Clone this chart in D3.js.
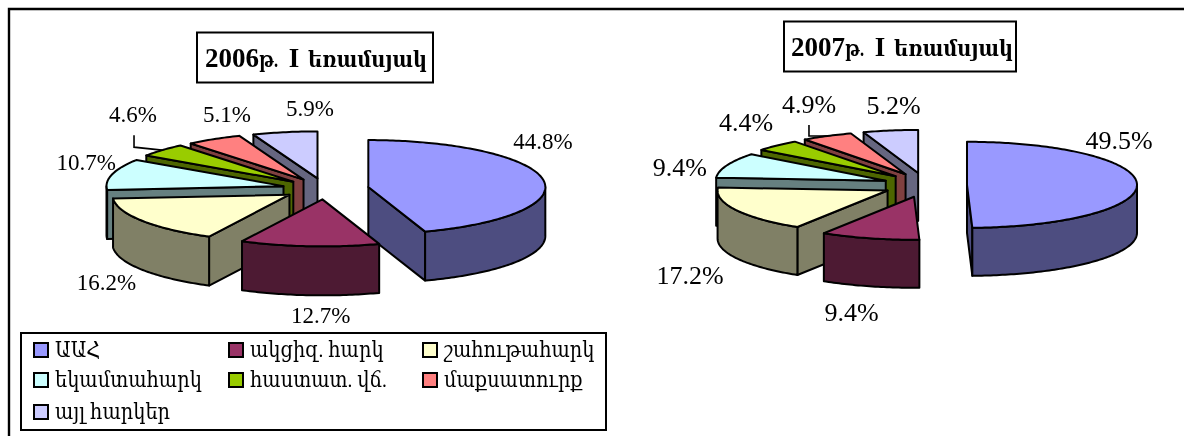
<!DOCTYPE html>
<html>
<head>
<meta charset="utf-8">
<script src="https://cdn.jsdelivr.net/npm/d3@7"></script>
<style>
html,body{margin:0;padding:0;background:#fff;overflow:hidden}
svg{display:block;filter:blur(0.4px)}
text{font-family:"Liberation Serif","DejaVu Serif",serif;fill:#000}
</style>
</head>
<body>
<svg id="c" width="1184" height="436"></svg>
<script>
// data
const categories = ["ԱԱՀ","ակցիզ. հարկ","շահութահարկ","եկամտահարկ","հաստատ. վճ.","մաքսատուրք","այլ հարկեր"];
const values2006 = [44.8,12.7,16.2,10.7,4.6,5.1,5.9];
const values2007 = [49.5,9.4,17.2,9.4,4.4,4.9,5.2];
const title2006 = ["2006","թ.", " I ","եռամսյակ"];
const title2007 = ["2007","թ.", " I ","եռամսյակ"];
const topColors  = ["#9999FF","#993366","#FFFFCC","#CCFFFF","#99CC00","#FF8080","#CCCCFF"];
const sideColors = ["#4D4D80","#4D1A33","#808066","#668080","#4D6600","#804040","#666680"];

// layout
const paintOrder = [6,5,4,3,2,0,1];
const titleSizes = [27,22,27,22];
const titleWidths = [null,19,null,119];
const titleGaps = [0,0,4,2];
const charts = [
  {values:values2006,title:title2006,cx:325.5,cy:188.8,rx:177,ry:47,depth:49,ex:43.4,ey:10.6,font:23,
   box:{x:197,y:32.5,w:236,h:50},titleX:205,titleBase:67,
   labelOffsets:[[0,-30],[11,77],[-36,69],[-26,-4],[-29,-28],[13,-17],[25,-16]],
   leader:{i:4,pts:[[0,0],[-28,-3],[-28,-15]]}},
  {values:values2007,title:title2007,cx:925,cy:185,rx:170,ry:43,depth:48,ex:42,ey:12.2,font:26,
   box:{x:784,y:21.5,w:232,h:50},titleX:791,titleBase:56,
   labelOffsets:[[-18,-35],[-18,83],[-46,74],[-47,11],[-31,-14],[-18,-23],[3,-17]],
   leader:{i:5,pts:[[0,0],[-18,0],[-18,-11]]}}
];
const legendBox={x:21,y:333,w:585,h:97};
const legendCols=[34,229,423], legendRows=[350,380,412];
const legendSquash=0.88;

const svg=d3.select("#c");
svg.append("path").attr("d","M1184,9H9V436").attr("fill","none").attr("stroke","#000").attr("stroke-width",2.4);

const toRad=Math.PI/180;
const line=d3.line();
function drawPie(c){
  const g=svg.append("g");
  const arcs=d3.pie().sort(null).value(d=>d)(c.values);
  const x=d3.scaleLinear().domain([-1,1]).range([-c.rx,c.rx]);
  const y=d3.scaleLinear().domain([-1,1]).range([-c.ry,c.ry]);
  const slices=arcs.map(a=>{
    const mid=(a.startAngle+a.endAngle)/2;
    const ax=c.cx+c.ex*Math.sin(mid), ay=c.cy-c.ey*Math.cos(mid);
    const pt=t=>[ax+x(Math.sin(t)),ay-y(Math.cos(t))];
    return {a,mid,ax,ay,pt};
  });
  const stroke=el=>el.attr("stroke","#000").attr("stroke-width",2).attr("stroke-linejoin","round");
  paintOrder.forEach(i=>{
    const s=slices[i],a=s.a;
    const d=c.depth;
    const down=p=>[p[0],p[1]+d];
    const face=t=>{
      const r=s.pt(t),o=[s.ax,s.ay];
      stroke(g.append("path")).attr("d",line([o,r,down(r),down(o)])+"Z").attr("fill",sideColors[i]);
    };
    if(Math.sin(a.startAngle)<-1e-6) face(a.startAngle);
    if(Math.sin(a.endAngle)>1e-6) face(a.endAngle);
    const lo=Math.max(a.startAngle,Math.PI/2), hi=Math.min(a.endAngle,Math.PI*1.5);
    if(hi>lo){
      const ts=d3.range(lo,hi,toRad).concat([hi]);
      const rim=ts.map(s.pt);
      stroke(g.append("path")).attr("d",line(rim.concat(rim.map(down).reverse()))+"Z").attr("fill",sideColors[i]);
    }
    const ts=d3.range(a.startAngle,a.endAngle,toRad).concat([a.endAngle]);
    stroke(g.append("path")).attr("d",line([[s.ax,s.ay]].concat(ts.map(s.pt)))+"Z").attr("fill",topColors[i]);
  });
  const ls=slices[c.leader.i],lp=ls.pt(ls.mid);
  g.append("path").attr("d",line(c.leader.pts.map(o=>[lp[0]+o[0],lp[1]+o[1]]))).attr("fill","none").attr("stroke","#000").attr("stroke-width",1.6);
  const fmt=d3.format(".1f");
  slices.forEach((s,i)=>{
    const p=s.pt(s.mid),o=c.labelOffsets[i];
    g.append("text").attr("x",p[0]+o[0]).attr("y",p[1]+o[1]).attr("text-anchor","middle")
      .attr("font-size",c.font).text(fmt(c.values[i])+"%");
  });
  g.append("rect").attr("x",c.box.x).attr("y",c.box.y).attr("width",c.box.w).attr("height",c.box.h)
    .attr("fill","#fff").attr("stroke","#000").attr("stroke-width",2);
  const tt=g.append("text").attr("x",c.titleX).attr("y",c.titleBase).attr("font-weight","bold")
    .attr("xml:space","preserve").style("white-space","pre");
  c.title.forEach((part,i)=>{
    const sp=tt.append("tspan").attr("font-size",titleSizes[i]).attr("dx",titleGaps[i]).text(part);
    if(titleWidths[i]) sp.attr("textLength",titleWidths[i]).attr("lengthAdjust","spacingAndGlyphs");
  });
}
charts.forEach(drawPie);

svg.append("rect").attr("x",legendBox.x).attr("y",legendBox.y).attr("width",legendBox.w).attr("height",legendBox.h)
  .attr("fill","#fff").attr("stroke","#000").attr("stroke-width",2);
categories.forEach((t,i)=>{
  const col=legendCols[i%3],row=legendRows[Math.floor(i/3)];
  svg.append("rect").attr("x",col).attr("y",row-7).attr("width",14).attr("height",14)
    .attr("fill",topColors[i]).attr("stroke","#000").attr("stroke-width",2);
  const tx=svg.append("text").attr("x",col+21).attr("y",row+7).attr("font-size",22).text(t);
  tx.attr("textLength",tx.node().getComputedTextLength()*legendSquash).attr("lengthAdjust","spacingAndGlyphs");
});
</script>
</body>
</html>
